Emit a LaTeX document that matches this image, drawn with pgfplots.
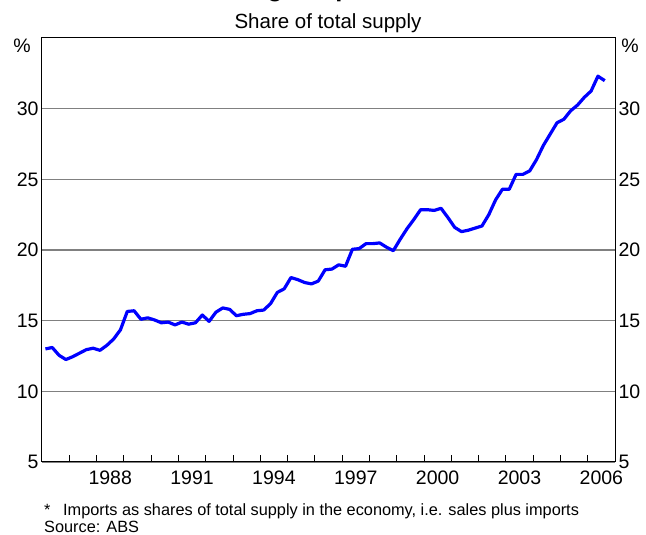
\documentclass[border=0pt]{standalone}
\usepackage{pgfplots}
\pgfplotsset{compat=1.18}
\usepackage{pgfplotstable}
\usepackage{fontspec}
\setmainfont{Liberation Sans}

\pgfplotstableread{
x y
1986.125 13.0
1986.375 13.1
1986.625 12.55
1986.875 12.25
1987.125 12.45
1987.375 12.7
1987.625 12.95
1987.875 13.05
1988.125 12.9
1988.375 13.25
1988.625 13.7
1988.875 14.35
1989.125 15.65
1989.375 15.7
1989.625 15.1
1989.875 15.2
1990.125 15.05
1990.375 14.85
1990.625 14.9
1990.875 14.7
1991.125 14.9
1991.375 14.75
1991.625 14.85
1991.875 15.4
1992.125 14.95
1992.375 15.6
1992.625 15.9
1992.875 15.8
1993.125 15.35
1993.375 15.45
1993.625 15.5
1993.875 15.7
1994.125 15.75
1994.375 16.2
1994.625 17.0
1994.875 17.25
1995.125 18.05
1995.375 17.9
1995.625 17.7
1995.875 17.6
1996.125 17.8
1996.375 18.6
1996.625 18.65
1996.875 18.95
1997.125 18.85
1997.375 20.05
1997.625 20.1
1997.875 20.45
1998.125 20.45
1998.375 20.5
1998.625 20.2
1998.875 19.95
1999.125 20.75
1999.375 21.5
1999.625 22.15
1999.875 22.85
2000.125 22.85
2000.375 22.8
2000.625 22.95
2000.875 22.3
2001.125 21.6
2001.375 21.3
2001.625 21.4
2001.875 21.55
2002.125 21.7
2002.375 22.5
2002.625 23.55
2002.875 24.3
2003.125 24.3
2003.375 25.35
2003.625 25.35
2003.875 25.6
2004.125 26.4
2004.375 27.4
2004.625 28.2
2004.875 29.0
2005.125 29.25
2005.375 29.85
2005.625 30.25
2005.875 30.8
2006.125 31.25
2006.375 32.3
2006.625 31.98
}\imports

\definecolor{gridgray}{RGB}{128,128,128}
\definecolor{lineblue}{RGB}{0,0,255}

\begin{document}
\begin{tikzpicture}[x=1pt,y=1pt]
\useasboundingbox (0,0) rectangle (646,535);
% title (cut off at the top of the page, as in the reference) and subtitle
\node[anchor=base, font=\fontsize{25.5}{28}\selectfont\bfseries] at (307,538.8) {Foreign Imports*};
\node[anchor=base, font=\fontsize{20.5}{24}\selectfont] at (328,506.7) {Share of total supply};
% main axis
\begin{axis}[
  at={(42pt,73pt)}, anchor=south west,
  scale only axis, width=573pt, height=424pt,
  xmin=1986, xmax=2007, ymin=5, ymax=35,
  axis line style={black, line width=1pt},
  xtick={1987,...,2006}, xticklabels={},
  xtick pos=bottom, xtick align=inside,
  major tick length=7pt,
  xtick style={black, line width=0.8pt},
  extra x ticks={1988.5,1991.5,1994.5,1997.5,2000.5,2003.5,2006.5},
  extra x tick labels={1988,1991,1994,1997,2000,2003,2006},
  extra x tick style={xtick style={draw=none}, xticklabel style={yshift=-5pt}},
  xticklabel style={font=\fontsize{19.5}{22}\selectfont},
  ytick={5,10,...,30},
  yticklabels={5,10,15,20,25,30},
  ytick pos=left,
  ytick style={draw=none},
  ymajorgrids, grid style={gridgray, line width=1.1pt},
  yticklabel style={font=\fontsize{19.5}{22}\selectfont},
  /pgf/number format/assume math mode=true,
  clip=false,
]
\addplot[lineblue, line width=3.2pt, line join=round] table {\imports};
\end{axis}
% right-hand axis labels
\begin{axis}[
  at={(42pt,73pt)}, anchor=south west,
  scale only axis, width=573pt, height=424pt,
  xmin=1986, xmax=2007, ymin=5, ymax=35,
  axis x line=none, axis y line*=right,
  axis line style={black, line width=1pt, -},
  ytick={5,10,...,30},
  yticklabels={5,10,15,20,25,30},
  ytick style={draw=none},
  yticklabel style={font=\fontsize{19.5}{22}\selectfont},
  /pgf/number format/assume math mode=true,
]
\addplot[draw=none] coordinates {(1990,10)};
\end{axis}
% percent signs
\node[font=\fontsize{19.5}{22}\selectfont] at (22,489) {\%};
\node[font=\fontsize{19.5}{22}\selectfont] at (630,489) {\%};
% footnotes
\node[anchor=base west, inner sep=0pt, font=\fontsize{16.3}{19}\selectfont] at (44,19) {*};
\node[anchor=base west, inner sep=0pt, font=\fontsize{16.3}{19}\selectfont] at (63,19) {Imports as shares of total supply in the economy, i.e. sales plus imports};
\node[anchor=base west, inner sep=0pt, font=\fontsize{16.3}{19}\selectfont] at (44,2.6) {Source: ABS};
\end{tikzpicture}
\end{document}
